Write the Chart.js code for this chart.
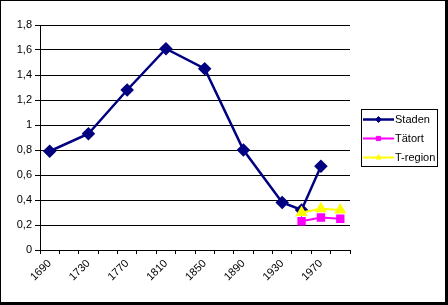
<!DOCTYPE html>
<html>
<head>
<meta charset="utf-8">
<script src="https://cdn.jsdelivr.net/npm/chart.js@4/dist/chart.umd.min.js"></script>
<style>
  html, body { margin: 0; padding: 0; background: #fff; }
  #wrap { width: 448px; height: 305px; position: relative; }
</style>
</head>
<body>
<div id="wrap"><canvas id="myChart" width="448" height="305"></canvas></div>
<script>
//** DATA */
const years = [1690, 1710, 1730, 1750, 1770, 1790, 1810, 1830, 1850, 1870, 1890, 1910, 1930, 1950, 1970, 1990];
const staden = [0.79, null, 0.93, null, 1.28, null, 1.61, null, 1.45, null, 0.80, null, 0.38, 0.32, 0.67, null];
const tatort = [null, null, null, null, null, null, null, null, null, null, null, null, null, 0.23, 0.26, 0.25];
const tregion = [null, null, null, null, null, null, null, null, null, null, null, null, null, 0.30, 0.33, 0.32];
const seriesNames = ["Staden", "Tätort", "T-region"];

const FONT = "Arial, 'Liberation Sans', sans-serif";

//** BACKGROUND + OUTER FRAME */
const framePlugin = {
  id: "frame",
  beforeDraw(chart) {
    const c = chart.ctx;
    c.save();
    c.fillStyle = "#fff";
    c.fillRect(0, 0, chart.width, chart.height);
    c.restore();
  },
  afterDraw(chart) {
    const c = chart.ctx;
    c.save();
    c.fillStyle = "#000";
    c.fillRect(0, 0, chart.width, 1);
    c.fillRect(0, 0, 1, chart.height);
    c.fillRect(chart.width - 3, 0, 3, chart.height);
    c.fillRect(0, chart.height - 3, chart.width, 3);
    c.restore();
  }
};

//** LEGEND BOX (line + marker samples) */
const legendPlugin = {
  id: "boxLegend",
  afterDraw(chart) {
    const c = chart.ctx;
    const x0 = 361, y0 = 109, w = 76, h = 57;
    c.save();
    c.strokeStyle = "#000";
    c.lineWidth = 1;
    c.strokeRect(x0 + 0.5, y0 + 0.5, w, h);
    c.font = "11px " + FONT;
    c.textBaseline = "middle";
    chart.data.datasets.forEach((ds, i) => {
      const y = 119.5 + i * 19;
      c.strokeStyle = ds.borderColor;
      c.lineWidth = ds.borderWidth;
      c.beginPath();
      c.moveTo(x0 + 2, y);
      c.lineTo(x0 + 33, y);
      c.stroke();
      c.fillStyle = ds.pointBackgroundColor;
      c.strokeStyle = ds.pointBorderColor;
      c.lineWidth = 1;
      Chart.helpers.drawPoint(c, { pointStyle: ds.pointStyle, radius: 3, borderWidth: 1 }, x0 + 17.5, y);
      c.fillStyle = "#000";
      c.fillText(ds.label, x0 + 34, y + 0.5);
    });
    c.restore();
  }
};

const data = {
  labels: years,
  datasets: [
    {
      label: seriesNames[0],
      data: staden,
      borderColor: "#000080",
      backgroundColor: "#000080",
      pointBackgroundColor: "#000080",
      pointBorderColor: "#000080",
      borderWidth: 2.5,
      pointStyle: "rectRot",
      pointRadius: 5,
      spanGaps: true,
      order: 3
    },
    {
      label: seriesNames[1],
      data: tatort,
      borderColor: "#FF00FF",
      backgroundColor: "#FF00FF",
      pointBackgroundColor: "#FF00FF",
      pointBorderColor: "#FF00FF",
      borderWidth: 2,
      pointStyle: "rect",
      pointRadius: 4.5,
      spanGaps: true,
      order: 2
    },
    {
      label: seriesNames[2],
      data: tregion,
      borderColor: "#FFFF00",
      backgroundColor: "#FFFF00",
      pointBackgroundColor: "#FFFF00",
      pointBorderColor: "#FFFF00",
      borderWidth: 2,
      pointStyle: "triangle",
      pointRadius: 5,
      spanGaps: true,
      order: 1
    }
  ]
};

const config = {
  type: "line",
  data: data,
  options: {
    responsive: false,
    animation: false,
    tension: 0,
    layout: { padding: { left: 0, top: 25, right: 98, bottom: 0 } },
    plugins: {
      legend: { display: false },
      tooltip: { enabled: false },
      title: { display: false }
    },
    scales: {
      x: {
        type: "category",
        offset: true,
        afterFit: (s) => { s.height = 55; },
        grid: {
          offset: true,
          drawOnChartArea: false,
          drawTicks: true,
          tickLength: 4,
          color: "#000"
        },
        border: { color: "#000", width: 1 },
        ticks: {
          autoSkip: false,
          maxRotation: 45,
          minRotation: 45,
          padding: 3,
          color: "#000",
          font: { family: FONT, size: 11 },
          callback: function (value, index) {
            return index % 2 === 0 ? String(years[index]) : "";
          }
        }
      },
      y: {
        min: 0,
        max: 1.8,
        afterFit: (s) => { s.width = 40; },
        grid: {
          color: "#000",
          lineWidth: 1,
          tickLength: 5
        },
        border: { color: "#000", width: 1 },
        ticks: {
          stepSize: 0.2,
          padding: 3,
          color: "#000",
          font: { family: FONT, size: 11 },
          callback: function (value) {
            return String(Math.round(value * 10) / 10).replace(".", ",");
          }
        }
      }
    }
  },
  plugins: [framePlugin, legendPlugin]
};

const chart = new Chart(document.getElementById("myChart"), config);
</script>
</body>
</html>
